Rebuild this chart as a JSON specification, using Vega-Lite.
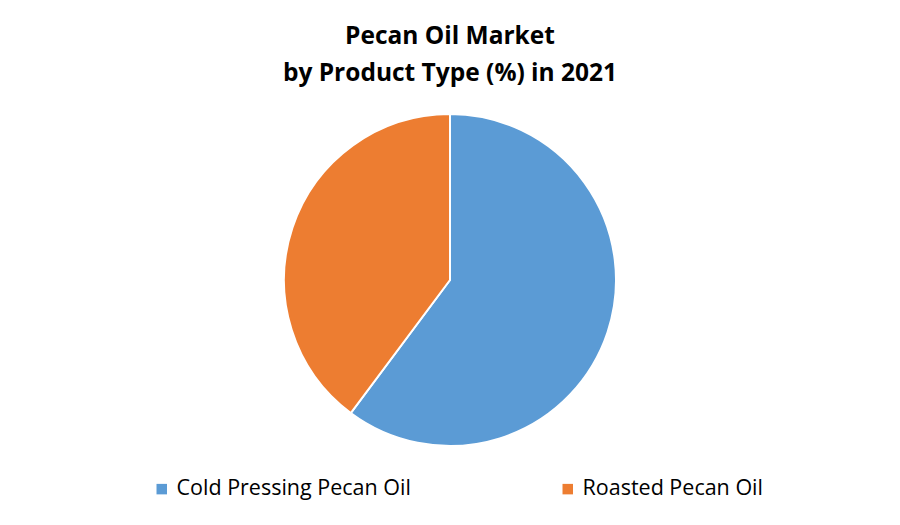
{
  "$schema": "https://vega.github.io/schema/vega-lite/v6.json",
  "width": 900,
  "height": 360,
  "autosize": {"type": "none"},
  "padding": {"top": 100, "left": 0, "right": 0, "bottom": 65},
  "background": "white",
  "title": {
    "text": ["Pecan Oil Market", "by Product Type (%) in 2021"],
    "anchor": "middle",
    "font": "Open Sans",
    "fontSize": 24.5,
    "fontWeight": "bold",
    "color": "#000000",
    "lineHeight": 37,
    "offset": 14
  },
  "data": {
    "values": [
      {"type": "Cold Pressing Pecan Oil", "share": 60.2, "ord": 1},
      {"type": "Roasted Pecan Oil", "share": 39.8, "ord": 2}
    ]
  },
  "mark": {"type": "arc", "outerRadius": 166, "stroke": "white", "strokeWidth": 2},
  "encoding": {
    "theta": {"field": "share", "type": "quantitative", "stack": true},
    "order": {"field": "ord", "type": "quantitative"},
    "color": {
      "field": "type",
      "type": "nominal",
      "scale": {"domain": ["Cold Pressing Pecan Oil", "Roasted Pecan Oil"], "range": ["#5B9BD5", "#ED7D31"]},
      "legend": {
        "title": null,
        "orient": "none",
        "direction": "horizontal",
        "legendX": 151,
        "legendY": 378,
        "symbolType": "square",
        "symbolSize": 110,
        "symbolStrokeWidth": 0,
        "labelFont": "Open Sans",
        "labelFontSize": 21.5,
        "labelColor": "#000000",
        "labelLimit": 400,
        "labelOffset": 4,
        "columnPadding": 146
      }
    }
  },
  "config": {"view": {"stroke": null}}
}
